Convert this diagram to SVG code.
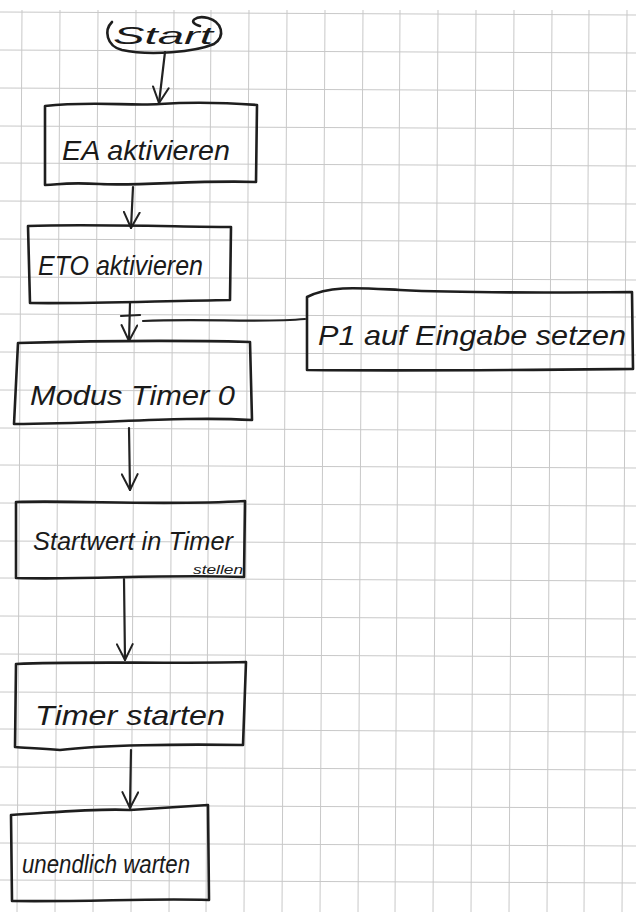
<svg xmlns="http://www.w3.org/2000/svg" width="636" height="912" viewBox="0 0 636 912">
<defs>
<style>
.grid line{stroke:#c8c8c8;stroke-width:1}
.box{fill:none;stroke:#1e1e1e;stroke-width:2.6;stroke-linejoin:round;stroke-linecap:round}
.conn{fill:none;stroke:#222;stroke-width:2.2;stroke-linecap:round}
.lbl{font-family:"Liberation Sans","DejaVu Sans",sans-serif;fill:#1a1a1a;font-style:italic}
</style>
<marker id="ah" viewBox="0 0 16 16" refX="15" refY="8" markerWidth="18" markerHeight="18" markerUnits="userSpaceOnUse" orient="auto">
<path d="M1,1 L15,8 L1,15" fill="none" stroke="#222" stroke-width="1.8" stroke-linecap="round"/>
</marker>
</defs>
<rect width="636" height="912" fill="#fff"/>
<g class="grid">
<line x1="22" y1="10" x2="17" y2="912"/>
<line x1="60" y1="10" x2="55" y2="912"/>
<line x1="98" y1="10" x2="93" y2="912"/>
<line x1="136" y1="10" x2="131" y2="912"/>
<line x1="174" y1="10" x2="169" y2="912"/>
<line x1="211" y1="10" x2="206" y2="912"/>
<line x1="249" y1="10" x2="244" y2="912"/>
<line x1="287" y1="10" x2="282" y2="912"/>
<line x1="325" y1="10" x2="320" y2="912"/>
<line x1="363" y1="10" x2="358" y2="912"/>
<line x1="400" y1="10" x2="395" y2="912"/>
<line x1="438" y1="10" x2="433" y2="912"/>
<line x1="476" y1="10" x2="471" y2="912"/>
<line x1="514" y1="10" x2="509" y2="912"/>
<line x1="552" y1="10" x2="547" y2="912"/>
<line x1="589" y1="10" x2="584" y2="912"/>
<line x1="627" y1="10" x2="622" y2="912"/>
<line x1="0" y1="12" x2="636" y2="15"/>
<line x1="0" y1="50" x2="636" y2="53"/>
<line x1="0" y1="88" x2="636" y2="91"/>
<line x1="0" y1="126" x2="636" y2="129"/>
<line x1="0" y1="163" x2="636" y2="166"/>
<line x1="0" y1="201" x2="636" y2="204"/>
<line x1="0" y1="239" x2="636" y2="242"/>
<line x1="0" y1="277" x2="636" y2="280"/>
<line x1="0" y1="314" x2="636" y2="317"/>
<line x1="0" y1="352" x2="636" y2="355"/>
<line x1="0" y1="390" x2="636" y2="393"/>
<line x1="0" y1="428" x2="636" y2="431"/>
<line x1="0" y1="465" x2="636" y2="468"/>
<line x1="0" y1="503" x2="636" y2="506"/>
<line x1="0" y1="541" x2="636" y2="544"/>
<line x1="0" y1="578" x2="636" y2="581"/>
<line x1="0" y1="616" x2="636" y2="619"/>
<line x1="0" y1="654" x2="636" y2="657"/>
<line x1="0" y1="692" x2="636" y2="695"/>
<line x1="0" y1="729" x2="636" y2="732"/>
<line x1="0" y1="767" x2="636" y2="770"/>
<line x1="0" y1="805" x2="636" y2="808"/>
<line x1="0" y1="843" x2="636" y2="846"/>
<line x1="0" y1="880" x2="636" y2="883"/>
</g>
<g id="connectors">
<path class="conn" d="M165,52 L159,103" marker-end="url(#ah)"/>
<path class="conn" d="M133,187 L131,228" marker-end="url(#ah)"/>
<path class="conn" d="M130,303 L129,341" marker-end="url(#ah)"/>
<path class="conn" d="M121,316 L140,315"/>
<path class="conn" d="M305,319 C260,323 200,318 143,321"/>
<path class="conn" d="M129,428 L130,490" marker-end="url(#ah)"/>
<path class="conn" d="M124,579 L125,660" marker-end="url(#ah)"/>
<path class="conn" d="M131,750 L130,808" marker-end="url(#ah)"/>
</g>
<g id="start">
<path class="box" d="M112,22 C104,30 106,46 122,50 C150,56 195,52 214,44 C226,36 222,22 208,18 C196,15 186,22 200,26"/>
<text class="lbl" x="113" y="44" font-size="24" textLength="100" lengthAdjust="spacingAndGlyphs">Start</text>
</g>
<g id="n1">
<path class="box" d="M45,106 C90,101 130,106 160,104 S230,103 257,105 L256,182 C200,180 140,186 100,184 S60,185 45,185 Z"/>
<text class="lbl" x="62" y="160" font-size="28" textLength="168" lengthAdjust="spacingAndGlyphs">EA aktivieren</text>
</g>
<g id="n2">
<path class="box" d="M28,226 C80,224 150,226 231,227 L230,300 C160,301 80,304 30,303 Z"/>
<text class="lbl" x="38" y="275" font-size="28" textLength="165" lengthAdjust="spacingAndGlyphs">ETO aktivieren</text>
</g>
<g id="p1">
<path class="box" d="M307,297 C330,285 360,288 400,290 S520,293 632,292 L633,369 C520,370 420,371 307,370 Z"/>
<text class="lbl" x="318" y="345" font-size="28" textLength="308" lengthAdjust="spacingAndGlyphs">P1 auf Eingabe setzen</text>
</g>
<g id="n3">
<path class="box" d="M18,343 C90,341 170,340 250,342 L252,420 C180,416 100,424 14,424 Z"/>
<text class="lbl" x="30" y="405" font-size="28" textLength="205" lengthAdjust="spacingAndGlyphs">Modus Timer 0</text>
</g>
<g id="n4">
<path class="box" d="M16,502 C80,500 160,506 245,501 L244,577 C160,574 90,580 16,578 Z"/>
<text class="lbl" x="33" y="550" font-size="26" textLength="200" lengthAdjust="spacingAndGlyphs">Startwert in Timer</text>
<text class="lbl" x="193" y="574" font-size="12" textLength="50" lengthAdjust="spacingAndGlyphs">stellen</text>
</g>
<g id="n5">
<path class="box" d="M16,664 C80,661 160,664 246,662 L243,745 C180,744 100,745 60,750 C40,748 25,748 15,747 Z"/>
<text class="lbl" x="35" y="725" font-size="28" textLength="190" lengthAdjust="spacingAndGlyphs">Timer starten</text>
</g>
<g id="n6">
<path class="box" d="M11,815 C60,812 100,808 130,810 C160,808 190,806 208,805 L209,900 C150,898 90,902 12,901 Z"/>
<text class="lbl" x="22" y="873" font-size="25" textLength="168" lengthAdjust="spacingAndGlyphs">unendlich warten</text>
</g>
</svg>
